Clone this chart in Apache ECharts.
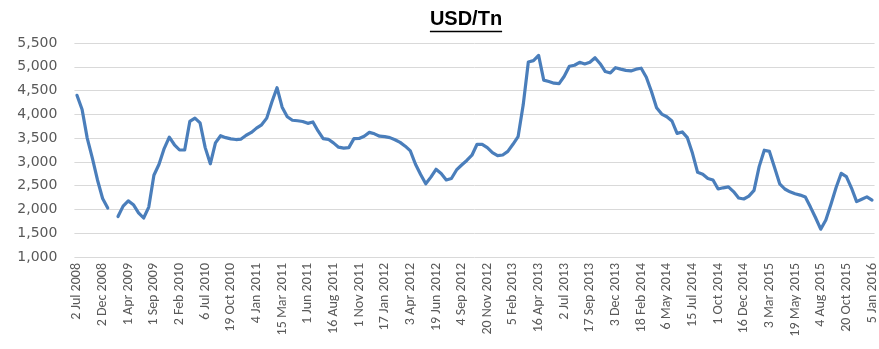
<!DOCTYPE html>
<html>
<head>
<meta charset="utf-8">
<title>USD/Tn</title>
<script src="https://cdn.jsdelivr.net/npm/echarts@6/dist/echarts.min.js"></script>
<style>
  html, body { margin: 0; padding: 0; background: #ffffff; }
  #chart { width: 879px; height: 349px; }
</style>
</head>
<body>
<div id="chart"></div>
<script>
// Labelled dates on the horizontal axis (one every five readings)
const tickLabels = [
  '2 Jul 2008', '2 Dec 2008', '1 Apr 2009', '1 Sep 2009', '2 Feb 2010', '6 Jul 2010',
  '19 Oct 2010', '4 Jan 2011', '15 Mar 2011', '1 Jun 2011', '16 Aug 2011', '1 Nov 2011',
  '17 Jan 2012', '3 Apr 2012', '19 Jun 2012', '4 Sep 2012', '20 Nov 2012', '5 Feb 2013',
  '16 Apr 2013', '2 Jul 2013', '17 Sep 2013', '3 Dec 2013', '18 Feb 2014', '6 May 2014',
  '15 Jul 2014', '1 Oct 2014', '16 Dec 2014', '3 Mar 2015', '19 May 2015', '4 Aug 2015',
  '20 Oct 2015', '5 Jan 2016'
];
const readingsPerLabel = 5;

// Price in USD per tonne; null marks a missing reading
const priceUsdPerTn = [
  4400, 4100, 3500, 3080, 2620, 2230, 2030, null, 1850, 2070,
  2180, 2100, 1930, 1820, 2050, 2720, 2950, 3280, 3520, 3360,
  3250, 3250, 3850, 3920, 3820, 3300, 2960, 3400, 3550, 3510,
  3485, 3470, 3480, 3560, 3620, 3710, 3780, 3920, 4260, 4560,
  4150, 3950, 3875, 3865, 3850, 3810, 3840, 3650, 3490, 3475,
  3400, 3310, 3290, 3300, 3490, 3492, 3540, 3620, 3590, 3540,
  3530, 3510, 3465, 3410, 3330, 3230, 2950, 2735, 2540, 2680,
  2845, 2755, 2620, 2650, 2830, 2935, 3030, 3140, 3370, 3370,
  3300, 3195, 3130, 3145, 3220, 3370, 3530, 4200, 5100, 5130,
  5240, 4720, 4690, 4655, 4647, 4800, 5010, 5032, 5095, 5060,
  5095, 5190, 5065, 4900, 4870, 4980, 4950, 4925, 4913, 4950,
  4970, 4780, 4480, 4140, 4005, 3950, 3860, 3600, 3630, 3510,
  3180, 2780, 2740, 2650, 2620, 2430, 2455, 2476, 2375, 2240,
  2220, 2280, 2400, 2900, 3245, 3220, 2880, 2540, 2430, 2370,
  2330, 2302, 2262, 2050, 1825, 1585, 1780, 2110, 2460, 2760,
  2690, 2450, 2165, 2215, 2265, 2195
];

const yMin = 1000, yMax = 5500, yStep = 500;

// One category per reading; only every fifth carries a date label
const categories = priceUsdPerTn.map((_, i) =>
  i % readingsPerLabel === 0 ? tickLabels[i / readingsPerLabel] : ''
);

const labelFont = 'Carlito, "Liberation Sans Narrow", "DejaVu Sans Condensed", "Liberation Sans", sans-serif';
const titleText = 'USD/Tn';
const titleFamily = '"Liberation Sans", Arial, sans-serif';
const titleSize = 20;

const chart = echarts.init(document.getElementById('chart'), null, { renderer: 'canvas' });

// Width of the title, used to size its underline
const measureCtx = document.createElement('canvas').getContext('2d');
measureCtx.font = 'bold ' + titleSize + 'px ' + titleFamily;
const titleWidth = measureCtx.measureText(titleText).width;
const titleCenterX = 466;
const titleBaseline = 29;

chart.setOption({
  animation: false,
  backgroundColor: '#ffffff',
  graphic: [{
    type: 'text',
    x: titleCenterX,
    y: titleBaseline,
    style: {
      text: titleText,
      align: 'center',
      verticalAlign: 'bottom',
      font: 'bold ' + titleSize + 'px ' + titleFamily,
      fill: '#000000'
    }
  }, {
    type: 'line',
    shape: {
      x1: titleCenterX - titleWidth / 2,
      y1: titleBaseline + 2.5,
      x2: titleCenterX + titleWidth / 2,
      y2: titleBaseline + 2.5
    },
    style: { stroke: '#000000', lineWidth: 1.5 }
  }],
  grid: { left: 74.4, right: 1.4, top: 43, bottom: 92 },
  xAxis: {
    type: 'category',
    data: categories,
    boundaryGap: true,
    axisLine: { show: false },
    axisTick: { show: false },
    axisLabel: {
      interval: readingsPerLabel - 1,
      rotate: 90,
      margin: 6,
      color: '#595959',
      fontSize: 14,
      fontFamily: labelFont
    },
    splitLine: { show: false }
  },
  yAxis: {
    type: 'value',
    min: yMin,
    max: yMax,
    interval: yStep,
    axisLine: { show: false },
    axisTick: { show: false },
    axisLabel: {
      margin: 17,
      color: '#595959',
      fontSize: 14,
      fontFamily: '"DejaVu Sans", sans-serif',
      formatter: v => v.toLocaleString('en-US')
    },
    splitLine: { lineStyle: { color: '#d9d9d9', width: 1 } }
  },
  series: [{
    type: 'line',
    data: priceUsdPerTn,
    connectNulls: false,
    showSymbol: false,
    symbol: 'none',
    smooth: false,
    lineStyle: { color: '#4a7ebb', width: 3.2, join: 'round', cap: 'round' }
  }]
});
</script>
</body>
</html>
